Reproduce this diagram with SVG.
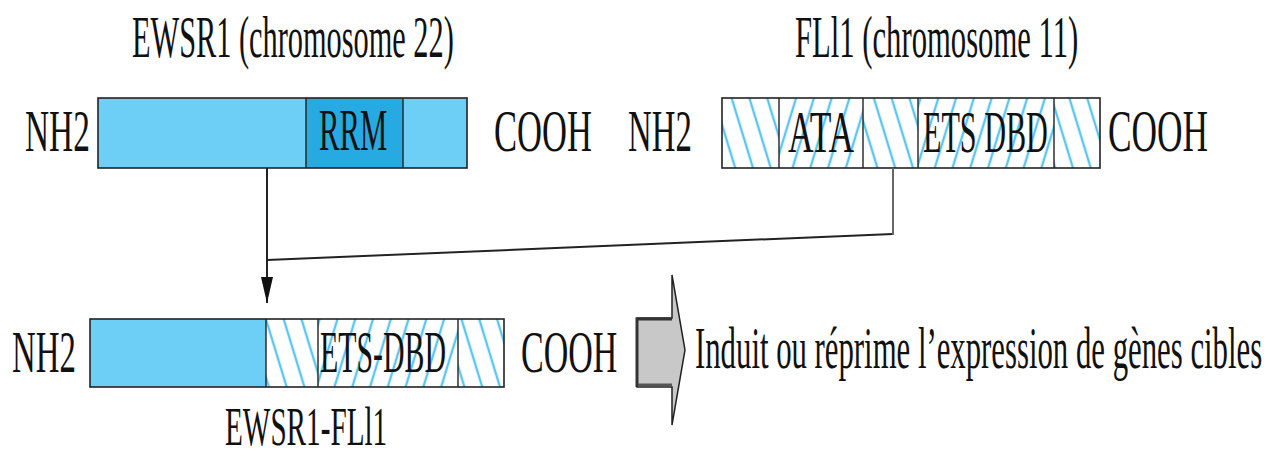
<svg xmlns="http://www.w3.org/2000/svg" width="1273" height="457" viewBox="0 0 1273 457">
<style>
text{font-family:"Liberation Serif","Times New Roman",serif;font-size:60px;fill:#111;}
.box{stroke:#222;stroke-width:1.6;}
.div{stroke:#222;stroke-width:1.4;}
.blue{fill:#6dcff6;}
.dark{fill:#27aae1;}
.hb{fill:url(#hatchBack);}
.hf{fill:url(#hatchFwd);}
.conn{fill:none;stroke:#222;stroke-width:2;}
</style>
<defs>
<pattern id="hatchBack" patternUnits="userSpaceOnUse" width="17" height="17" patternTransform="rotate(-17)">
<rect width="17" height="17" fill="#fff"/>
<line x1="8" y1="0" x2="8" y2="17" stroke="#5cc6ef" stroke-width="2.4"/>
</pattern>
<pattern id="hatchFwd" patternUnits="userSpaceOnUse" width="17" height="17" patternTransform="rotate(17)">
<rect width="17" height="17" fill="#fff"/>
<line x1="8" y1="0" x2="8" y2="17" stroke="#5cc6ef" stroke-width="2.4"/>
</pattern>
<marker id="arr" markerWidth="26" markerHeight="12" refX="26" refY="6" orient="auto" markerUnits="userSpaceOnUse" viewBox="0 0 26 12">
<path d="M0,0 L26,6 L0,12 Z" fill="#111"/>
</marker>
</defs>

<g id="title-ewsr1"><text transform="translate(132,57) scale(0.55,1)" textLength="585" lengthAdjust="spacingAndGlyphs">EWSR1 (chromosome 22)</text></g>
<g id="title-fli1"><text transform="translate(795,57) scale(0.55,1)" textLength="515" lengthAdjust="spacingAndGlyphs">FLl1 (chromosome 11)</text></g>

<g id="ewsr1">
<text transform="translate(25,151) scale(0.55,1)" textLength="118" lengthAdjust="spacingAndGlyphs">NH2</text>
<rect class="blue" x="98" y="98" width="369" height="70"/>
<rect class="dark" x="306" y="98" width="97" height="70"/>
<rect class="box" x="98" y="98" width="369" height="70" fill="none"/>
<line class="div" x1="306" y1="98" x2="306" y2="168"/>
<line class="div" x1="403" y1="98" x2="403" y2="168"/>
<text transform="translate(319,150) scale(0.55,1)" textLength="124" lengthAdjust="spacingAndGlyphs">RRM</text>
<text transform="translate(494,151) scale(0.55,1)" textLength="178" lengthAdjust="spacingAndGlyphs">COOH</text>
</g>

<g id="fli1">
<text transform="translate(628,151) scale(0.55,1)" textLength="116" lengthAdjust="spacingAndGlyphs">NH2</text>
<rect class="hb" x="722" y="98" width="57" height="70"/>
<rect class="hf" x="779" y="98" width="84" height="70"/>
<rect class="hb" x="863" y="98" width="55" height="70"/>
<rect class="hf" x="918" y="98" width="136" height="70"/>
<rect class="hb" x="1054" y="98" width="46" height="70"/>
<rect class="box" x="722" y="98" width="378" height="70" fill="none"/>
<line class="div" x1="779" y1="98" x2="779" y2="168"/>
<line class="div" x1="863" y1="98" x2="863" y2="168"/>
<line class="div" x1="918" y1="98" x2="918" y2="168"/>
<line class="div" x1="1054" y1="98" x2="1054" y2="168"/>
<text transform="translate(788,152) scale(0.55,1)" textLength="120" lengthAdjust="spacingAndGlyphs">ATA</text>
<text transform="translate(923,152) scale(0.55,1)" textLength="227" lengthAdjust="spacingAndGlyphs">ETS DBD</text>
<text transform="translate(1108,151) scale(0.55,1)" textLength="182" lengthAdjust="spacingAndGlyphs">COOH</text>
</g>

<g id="connectors">
<line class="conn" x1="267" y1="168" x2="267" y2="303" marker-end="url(#arr)"/>
<line class="conn" x1="267" y1="260" x2="893" y2="234"/>
<line x1="893" y1="168" x2="893" y2="235" stroke="#666" stroke-width="2"/>
</g>

<g id="fusion">
<text transform="translate(12,372) scale(0.55,1)" textLength="116" lengthAdjust="spacingAndGlyphs">NH2</text>
<rect class="blue" x="90" y="319" width="176" height="68"/>
<rect class="hb" x="266" y="319" width="52" height="68"/>
<rect class="hf" x="318" y="319" width="140" height="68"/>
<rect class="hb" x="458" y="319" width="46" height="68"/>
<rect class="box" x="90" y="319" width="414" height="68" fill="none"/>
<line class="div" x1="266" y1="319" x2="266" y2="387"/>
<line class="div" x1="318" y1="319" x2="318" y2="387"/>
<line class="div" x1="458" y1="319" x2="458" y2="387"/>
<text transform="translate(320,372) scale(0.55,1)" textLength="229" lengthAdjust="spacingAndGlyphs">ETS-DBD</text>
<text transform="translate(521,372) scale(0.55,1)" textLength="175" lengthAdjust="spacingAndGlyphs">COOH</text>
<text transform="translate(225,445) scale(0.53,1)" style="font-size:55px" textLength="306" lengthAdjust="spacingAndGlyphs">EWSR1-FLl1</text>
</g>

<g id="effect">
<polygon points="637,318 672,318 672,275 685,350 672,425 672,387 637,387" fill="#c8c8c8" stroke="#222" stroke-width="1.5" stroke-linejoin="miter"/>
<polyline points="637,387 637,319 672,319" fill="none" stroke="#333" stroke-width="3"/>
<line x1="638" y1="385" x2="672" y2="385" stroke="#555" stroke-width="3"/>
<text transform="translate(695,368) scale(0.51,1)" textLength="1112" lengthAdjust="spacingAndGlyphs">Induit ou réprime l’expression de gènes cibles</text>
</g>
</svg>
